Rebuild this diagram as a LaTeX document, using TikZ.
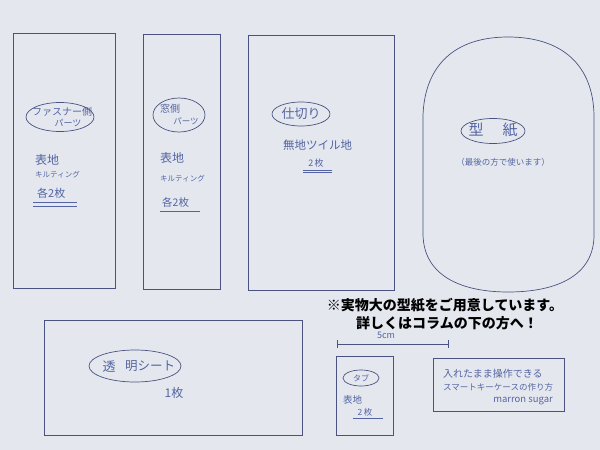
\documentclass[tikz,border=0pt]{standalone}
\usepackage{fontspec}
\setmainfont{Noto Sans CJK JP}
\newfontfamily\jp{Noto Sans CJK JP}
\definecolor{paper}{HTML}{E4E8EE}
\definecolor{ink}{HTML}{4A5282}
\definecolor{pen}{HTML}{5464A2}
\newcommand{\fs}[1]{\jp\fontsize{#1}{#1}\selectfont}
\tikzset{
  piece/.style={draw=ink, line width=0.7pt},
  circ/.style={draw=ink, line width=0.7pt},
  txt/.style={text=pen, inner sep=0pt},
  uline/.style={draw=pen, line width=0.6pt},
  note/.style={text=black, font=\jp\bfseries\fontsize{14}{17}\selectfont, inner sep=0pt}
}
\begin{document}
\begin{tikzpicture}[x=1pt,y=-1pt]
\fill[paper] (0,0) rectangle (600,450);
\useasboundingbox (0,0) rectangle (600,450);
% pieces
\draw[piece] (13,33) rectangle (115,288);
\draw[piece] (143,34) rectangle (220,289);
\draw[piece] (248,35) rectangle (394,290);
\draw[piece] (508,37) .. controls (455,37) and (425,65) .. (423,115)
  -- (423,235) .. controls (424,275) and (460,292) .. (508,292)
  .. controls (558,292) and (594,275) .. (594,235)
  -- (594,115) .. controls (593,65) and (562,37) .. (508,37) -- cycle;
\draw[piece] (44,320) rectangle (302,435);
\draw[piece] (336,356) rectangle (393,435);
\draw[piece] (433,358) rectangle (564,411);
% piece 1
\node[txt, font=\fs{10}] (l1a) at (62,112) {ファスナー側};
\node[txt, font=\fs{9}] (l1b) at (68,123) {パーツ};
\draw[circ] (60,117) ellipse (34pt and 14.5pt);
\node[txt, font=\fs{12}, anchor=west] (a1) at (35,160) {表地};
\node[txt, font=\fs{7.5}, anchor=west] (b1) at (35,175) {キルティング};
\node[txt, font=\fs{11}, anchor=west] (c1) at (37,193) {各2枚};
\draw[uline] (33,202) -- (77,202);
\draw[uline] (33,206) -- (77,206);
% piece 2
\node[txt, font=\fs{10}] (l2a) at (170,109) {窓側};
\node[txt, font=\fs{8.5}] (l2b) at (186,121) {パーツ};
\draw[circ] (179,115) ellipse (26pt and 17pt);
\node[txt, font=\fs{12}, anchor=west] (a2) at (160,158) {表地};
\node[txt, font=\fs{7.5}, anchor=west] (b2) at (160,179) {キルティング};
\node[txt, font=\fs{10.5}, anchor=west] (c2) at (162,202) {各2枚};
\draw[uline] (160,211) -- (200,211);
% piece 3
\node[txt, font=\fs{13}] (l3) at (301,114) {仕切り};
\draw[circ] (l3) ellipse (29pt and 12pt);
\node[txt, font=\fs{11.5}, anchor=west] (a3) at (283,145) {無地ツイル地};
\node[txt, font=\fs{9}] (c3) at (316,163) {2\,枚};
\draw[uline] (303,170) -- (332,170);
\draw[uline] (303,172.5) -- (332,172.5);
% pattern paper
\node[txt, font=\fs{15}] (l4a) at (476,130) {型};
\node[txt, font=\fs{15}] (l4b) at (510,130) {紙};
\draw[circ] (493,131) ellipse (32pt and 12.5pt);
\node[txt, font=\fs{8.5}] (a4) at (503,162) {（最後の方で使います）};
% clear sheet
\node[txt, font=\fs{13}] (l5a) at (109,367) {透};
\node[txt, font=\fs{12.5}] (l5b) at (150,366) {明シート};
\draw[circ] (135,366) ellipse (46pt and 16pt);
\node[txt, font=\fs{12}] (a5) at (174,393) {1枚};
% tab
\node[txt, font=\fs{8}] (l6) at (361,378) {タブ};
\draw[circ] (l6) ellipse (18pt and 8pt);
\node[txt, font=\fs{9.5}, anchor=west] (a6) at (343,400) {表地};
\node[txt, font=\fs{8.5}] (c6) at (365,412) {2\,枚};
\draw[uline] (353,418) -- (383,418);
% dimension
\coordinate (d1) at (337,344);
\coordinate (d2) at (448,344);
\draw[ink, line width=0.7pt] (d1) -- (d2);
\draw[ink, line width=0.7pt] ([yshift=-4pt]d1) -- ([yshift=4pt]d1);
\draw[ink, line width=0.7pt] ([yshift=-4pt]d2) -- ([yshift=4pt]d2);
\node[txt, font=\fs{9}] (dl) at (386,335) {5cm};
% credit
\node[txt, font=\fs{10}, anchor=west] (t1) at (443,374) {入れたまま操作できる};
\node[txt, font=\fs{8.5}, anchor=west] (t2) at (443,387) {スマートキーケースの作り方};
\node[txt, font=\fs{9.5}, anchor=east] (t3) at (553,401) {marron sugar};
% note
\node[note] (n1) at (445,305) {※実物大の型紙をご用意しています。};
\node[note] (n2) at (447,323) {詳しくはコラムの下の方へ！};
\end{tikzpicture}
\end{document}
